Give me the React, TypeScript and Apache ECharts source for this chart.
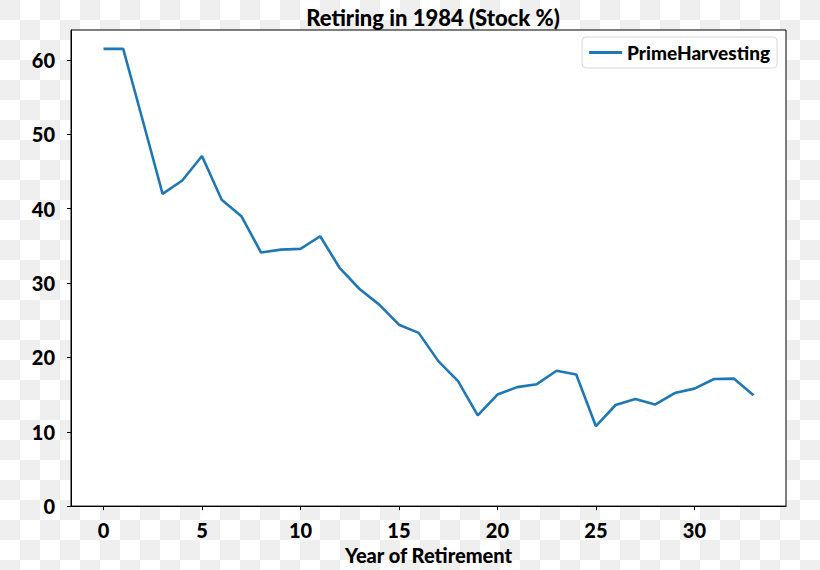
import React, { useEffect, useRef } from "react";
import * as echarts from "echarts";

const years: number[] = [
  0, 1, 2, 3, 4, 5, 6, 7, 8, 9, 10, 11, 12, 13, 14, 15, 16, 17, 18, 19, 20,
  21, 22, 23, 24, 25, 26, 27, 28, 29, 30, 31, 32, 33,
];
const stockPct: number[] = [
  61.5, 61.5, 51.8, 42.0, 43.8, 47.1, 41.2, 39.0, 34.1, 34.5, 34.6, 36.3, 32.0,
  29.2, 27.1, 24.4, 23.3, 19.5, 16.8, 12.2, 15.0, 16.0, 16.4, 18.2, 17.7, 10.75,
  13.6, 14.4, 13.65, 15.2, 15.8, 17.1, 17.15, 14.9,
];
const xTicks: number[] = [0, 5, 10, 15, 20, 25, 30];
const yTicks: number[] = [0, 10, 20, 30, 40, 50, 60];
const seriesName = "PrimeHarvesting";
const titleText = "Retiring in 1984 (Stock %)";
const xAxisName = "Year of Retirement";

const FONT = "Lato";

export default function App() {
  const ref = useRef<HTMLDivElement>(null);

  useEffect(() => {
    if (!ref.current) return;
    const chart = echarts.init(ref.current, undefined, { renderer: "svg" });
    const data = years.map((y, i) => [y, stockPct[i]]);
    const lbl = {
      color: "#000",
      fontFamily: FONT,
      fontWeight: 900 as const,
      fontSize: 20,
    };
    chart.setOption({
      animation: false,
      backgroundColor: "transparent",
      title: {
        text: titleText,
        left: 428,
        textAlign: "center",
        top: 1,
        textStyle: { ...lbl, fontSize: 22 },
      },
      legend: {
        data: [seriesName],
        right: 43,
        top: 37,
        icon: "rect",
        itemWidth: 33,
        itemHeight: 3,
        itemGap: 10,
        backgroundColor: "#fff",
        borderColor: "#d8d8d8",
        borderWidth: 1,
        borderRadius: 4,
        padding: [6, 7, 6, 7],
        textStyle: { ...lbl, fontSize: 19 },
      },
      grid: {
        left: 71,
        top: 30,
        width: 715,
        height: 478,
        show: true,
        backgroundColor: "#fff",
        borderColor: "#000",
        borderWidth: 1,
        containLabel: false,
      },
      xAxis: {
        type: "value",
        min: -1.65,
        max: 34.65,
        name: xAxisName,
        nameLocation: "middle",
        nameGap: 31,
        nameTextStyle: { ...lbl, fontSize: 20 },
        axisLine: {
          show: true,
          onZero: false,
          lineStyle: { color: "#000", width: 1 },
        },
        axisTick: {
          show: true,
          inside: false,
          length: 4,
          customValues: xTicks,
          lineStyle: { color: "#000" },
        },
        axisLabel: { ...lbl, margin: 14, customValues: xTicks },
        splitLine: { show: false },
      },
      yAxis: {
        type: "value",
        min: 0,
        max: 64.04,
        axisLine: {
          show: true,
          onZero: false,
          lineStyle: { color: "#000", width: 1 },
        },
        axisTick: {
          show: true,
          inside: false,
          length: 4,
          customValues: yTicks,
          lineStyle: { color: "#000" },
        },
        axisLabel: { ...lbl, margin: 16, customValues: yTicks },
        splitLine: { show: false },
      },
      series: [
        {
          name: seriesName,
          type: "line",
          data,
          showSymbol: false,
          symbol: "none",
          color: "#1f77b4",
          lineStyle: { color: "#1f77b4", width: 2.6 },
        },
      ],
    });
    return () => chart.dispose();
  }, []);

  return (
    <div
      style={{
        position: "fixed",
        left: 0,
        top: 0,
        width: 820,
        height: 570,
        backgroundColor: "#fff",
        backgroundImage:
          "conic-gradient(#fff 0 25%, #efefef 0 50%, #fff 0 75%, #efefef 0)",
        backgroundSize: "40px 40px",
        backgroundPosition: "0 0",
      }}
    >
      <div ref={ref} style={{ width: 820, height: 570 }} />
    </div>
  );
}
